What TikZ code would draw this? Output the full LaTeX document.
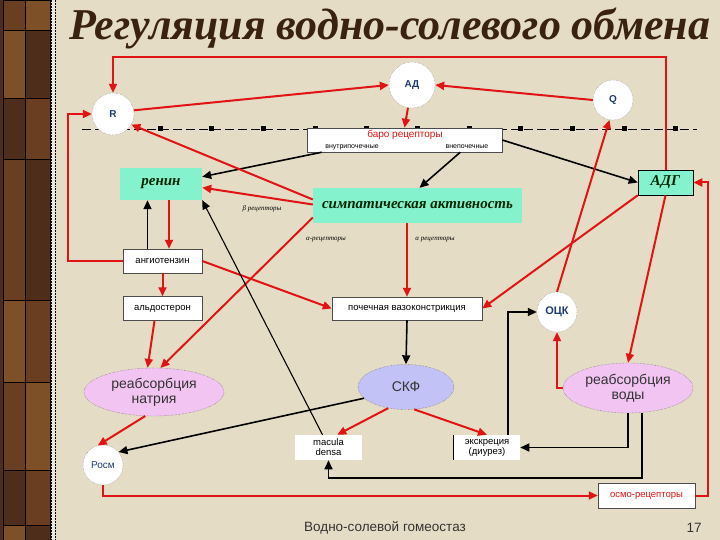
\documentclass[tikz,border=0pt]{standalone}
\usepackage{fontspec}
\setmainfont{Liberation Serif}
\setsansfont{Liberation Sans}
\usetikzlibrary{arrows.meta,shapes.geometric,calc}
\definecolor{bgc}{HTML}{E4DCC4}
\definecolor{aqua}{HTML}{84F2CC}
\definecolor{pinkc}{HTML}{F2C4F2}
\definecolor{lav}{HTML}{C2C2F6}
\definecolor{redc}{HTML}{E01414}
\definecolor{titlec}{HTML}{3A2210}
\definecolor{navyc}{HTML}{1E3C6E}
\definecolor{brA}{HTML}{6A3E20}
\definecolor{brB}{HTML}{4E2E1A}
\definecolor{brC}{HTML}{7E5028}
\tikzset{
 wbox/.style={draw=black!70, line width=0.5pt, fill=white, inner sep=0pt, font=\sffamily\fontsize{9.5}{11}\selectfont},
 abox/.style={fill=aqua, inner sep=0pt, font=\bfseries\itshape\fontsize{15}{17}\selectfont, text=black!85!green},
 circ/.style={circle, fill=white, draw=gray, densely dotted, inner sep=0pt, font=\sffamily\bfseries\fontsize{10}{11}\selectfont, text=navyc},
 ell/.style={ellipse, draw=gray!70!black, densely dotted, inner sep=0pt, align=center, font=\sffamily\fontsize{14}{15}\selectfont, text=black!80},
 ra/.style={draw=redc, line width=2pt, -{Triangle[length=9pt,width=8pt]}},
 ka/.style={draw=black, line width=1.6pt, -{Triangle[length=9pt,width=8pt]}},
 lbl/.style={font=\itshape\fontsize{7}{8}\selectfont, inner sep=0pt},
}
\begin{document}
\begin{tikzpicture}[x=1pt,y=-1pt]
\fill[bgc] (0,0) rectangle (720,540);
\useasboundingbox (0,0) rectangle (720,540);
% left decorative strip
\fill[brB] (0,0) rectangle (52,540);
\foreach \ya/\yb/\ca/\cb in {0/30/brA/brC, 30/98/brC/brB, 98/159/brB/brA, 159/300/brA/brB, 300/382/brC/brA, 382/470/brA/brC, 470/525/brB/brA, 525/540/brC/brB}{
  \fill[\ca] (3,\ya) rectangle (25,\yb);
  \fill[\cb] (25,\ya) rectangle (50,\yb);
  \draw[black, line width=0.6pt] (3,\ya) -- (50,\ya);
}
\draw[black, line width=0.6pt] (3,0) -- (3,540) (25,0) -- (25,540) (50,0) -- (50,540);
\fill[bgc!70!white] (51,0) rectangle (55,540);
\draw[black, densely dotted, line width=0.5pt] (51,0) -- (51,540) (55,0) -- (55,540);
% title
\node[anchor=base, font=\bfseries\itshape\fontsize{44}{50}\selectfont, text=titlec, inner sep=0pt] (title) at (390,40) {Регуляция водно-солевого обмена};
% dashed membrane line
\coordinate (dl) at (82,129);
\coordinate (dr) at (697,129);
\draw[black, line width=0.9pt, dash pattern=on 9pt off 4pt] (dl) -- (dr);
\foreach \x in {160,211,263,315,366,417,469,520,572,624,675}{
  \fill[black] (\x-2.5,126.5) rectangle (\x+2.5,131.5);
}
\coordinate (top) at (0,57);
% nodes
\node[circ, minimum size=46pt] (ad) at (412,85) {АД};
\node[circ, minimum size=40pt] (q) at (613,100) {Q};
\node[circ, minimum size=42pt] (r) at (113,114) {R};
\node[wbox, minimum width=195pt, minimum height=24pt] (baro) at (404.5,140) {};
\node[font=\sffamily\fontsize{10}{11}\selectfont, text=redc, inner sep=0pt] (barot) at (405,135) {баро рецепторы};
\node[font=\sffamily\fontsize{7}{8}\selectfont, inner sep=0pt] (baroin) at (352,147) {внутрипочечные};
\node[font=\sffamily\fontsize{7}{8}\selectfont, inner sep=0pt] (baroout) at (467,147) {внепочечные};
\node[abox, minimum width=82pt, minimum height=32pt] (renin) at (161,184) {ренин};
\node[abox, draw=black, line width=0.6pt, minimum width=55pt, minimum height=25pt] (adg) at (665.5,182.5) {АДГ};
\node[abox, minimum width=209pt, minimum height=35pt] (symp) at (417.5,205.5) {симпатическая активность};
\node[lbl] (beta) at (262,209) {β рецепторы};
\node[lbl] (alpha1) at (326,240) {α-рецепторы};
\node[lbl] (alpha2) at (435,240) {α рецепторы};
\node[wbox, minimum width=79pt, minimum height=24pt] (ang) at (162.5,261) {ангиотензин};
\node[wbox, minimum width=79pt, minimum height=24pt] (ald) at (162.5,308.5) {альдостерон};
\node[wbox, minimum width=150pt, minimum height=23pt] (pv) at (407,308.5) {почечная вазоконстрикция};
\node[circ, minimum size=40pt, font=\sffamily\bfseries\fontsize{11}{12}\selectfont] (ock) at (557,312) {ОЦК};
\node[ell, fill=pinkc, minimum width=140pt, minimum height=48pt] (natr) at (154,392) {реабсорбция\\натрия};
\node[ell, fill=lav, minimum width=96pt, minimum height=45pt] (skf) at (406,387) {СКФ};
\node[ell, fill=pinkc, minimum width=130pt, minimum height=50pt] (voda) at (628,388) {реабсорбция\\воды};
\node[circ, minimum size=40pt, font=\sffamily\fontsize{10}{11}\selectfont] (rosm) at (103,465) {Росм};
\node[wbox, draw=none, minimum width=67pt, minimum height=25pt, align=center, font=\sffamily\fontsize{9.5}{10}\selectfont] (mac) at (328.5,447.5) {macula\\densa};
\node[wbox, draw=none, minimum width=66pt, minimum height=25pt, align=center, font=\sffamily\fontsize{9.5}{10}\selectfont] (ekskr) at (487,447.5) {экскреция\\(диурез)};
\draw[black, line width=0.8pt] (ekskr.north west) -- (ekskr.south west);
\node[wbox, minimum width=97pt, minimum height=25pt, text=redc] (osmo) at (646.5,495.5) {осмо-рецепторы};
% footer
\node[font=\sffamily\fontsize{13.5}{15}\selectfont, text=black!80, inner sep=0pt] (foot) at (385,528) {Водно-солевой гомеостаз};
\node[font=\sffamily\fontsize{13.5}{15}\selectfont, text=black!80, inner sep=0pt] (page) at (694,528) {17};
% connectors
\draw[ra] (adg.north) -- (adg.north |- top) -| (r.north);
\draw[ra] (r.10) -- (ad.west);
\draw[ra] (q.west) -- (ad.east);
\draw[ra] (ad.260) -- (baro.north);
\draw[ka] ([xshift=15pt]baro.south west) -- (renin.10);
\draw[ka] (baro.east) -- (adg.west);
\draw[ka] ([xshift=-42pt]baro.south east) -- ([xshift=2pt]symp.north);
\draw[ra] ([yshift=6pt]symp.west) -- (r.-30);
\draw[ra] ([yshift=1pt]symp.west) -- (renin.-5);
\draw[ra] ([yshift=-12pt]symp.west) -- (natr.75);
\draw[ra] (symp.south -| pv.north) -- (pv.north);
\draw[ra] ([xshift=8pt]renin.south) -- ([xshift=8pt]renin.south |- ang.north);
\draw[ka] ([xshift=-15pt]ang.north) -- ([xshift=-15pt]ang.north |- renin.south);
\draw[ra] (ang.west) -- ++(-55,0) |- (r.west);
\draw[ra] (ang.south) -- (ald.north);
\draw[ra] (ang.east) -- (pv.west);
\draw[ra] ([xshift=-8pt]ald.south) -- (natr.105);
\draw[ka, line width=1.1pt] ([xshift=-6pt]mac.north) -- (renin.south east);
\draw[ra] (adg.south west) -- (pv.east);
\draw[ra] (ock.north) -- (q.-100);
\draw[ra] (adg.south) -- (voda.north);
\draw[ra] (osmo.east) -- ++(13,0) |- (adg.east);
\draw[ka] (pv.south) -- (skf.north);
\draw[ka] ([xshift=-12pt]ekskr.north east) |- (ock.west);
\draw[ra] (voda.west) -| (ock.south);
\draw[ka] (voda.south) |- (ekskr.east);
\draw[ka] ([xshift=14pt]voda.south) -- ++(0,65) -| (mac.south);
\draw[ra] (skf.230) -- ([xshift=-25pt]mac.north east);
\draw[ra] (skf.-70) -- (ekskr.north);
\draw[ka] (skf.195) -- (rosm.40);
\draw[ra] (natr.-110) -- (rosm.105);
\draw[ra] (rosm.south) |- (osmo.west);
\end{tikzpicture}
\end{document}
